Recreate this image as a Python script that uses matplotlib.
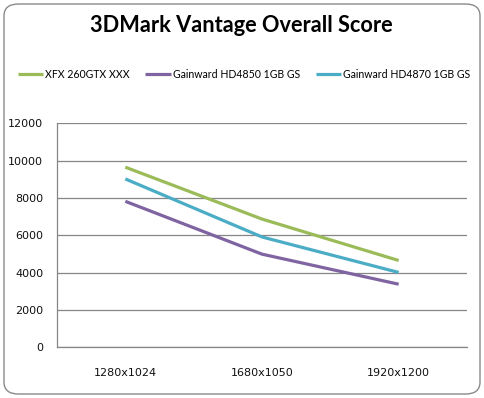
import matplotlib
matplotlib.use('Agg')
import matplotlib.pyplot as plt
from matplotlib.patches import FancyBboxPatch

# chart data
resolutions = ['1280x1024', '1680x1050', '1920x1200']
series_names = ['XFX 260GTX XXX', 'Gainward HD4850 1GB GS', 'Gainward HD4870 1GB GS']
xfx_260gtx = [9650, 6870, 4650]
hd4850 = [7820, 4990, 3380]
hd4870 = [9020, 5910, 4010]
y_ticks = [0, 2000, 4000, 6000, 8000, 10000, 12000]

colors = ['#9BBB59', '#8064A2', '#4BACC6']
grid_col = '#868686'

fig = plt.figure(figsize=(4.84, 3.98), dpi=100)

# rounded outer border
border = FancyBboxPatch((4/484, 4/398), 476/484, 390/398,
                        boxstyle='round,pad=0,rounding_size=0.03',
                        transform=fig.transFigure, facecolor='white',
                        edgecolor='#8a8a8a', linewidth=1.0, zorder=-5)
fig.patches.append(border)

ax = fig.add_axes([57/484, 1 - 347.3/398, 410/484, 224/398])
ax.set_facecolor('none')
ax.set_zorder(2)

x = range(len(resolutions))
for vals, name, c in zip([xfx_260gtx, hd4850, hd4870], series_names, colors):
    ax.plot(x, vals, color=c, linewidth=2.3, label=name, solid_capstyle='butt')

ax.set_xlim(-0.5, len(resolutions) - 0.5)
ax.set_ylim(0, 12000)
ax.set_yticks(y_ticks)
ax.set_yticklabels([str(t) for t in y_ticks], fontsize=8, color='#111111')
ax.set_xticks(list(x))
ax.set_xticklabels(resolutions, fontsize=8, color='#111111')
ax.tick_params(axis='y', length=0, pad=10)
ax.tick_params(axis='x', length=0, pad=15)
ax.grid(axis='y', color=grid_col, linewidth=0.9)
ax.set_axisbelow(True)
for s in ['top', 'right']:
    ax.spines[s].set_visible(False)
for s in ['left', 'bottom']:
    ax.spines[s].set_color(grid_col)
    ax.spines[s].set_linewidth(0.9)

fig.text(241/484, 1 - 26/398, '3DMark Vantage Overall Score', ha='center', va='center',
         fontsize=15.7, fontweight='bold', family='Lato')

leg = ax.legend(loc='center', bbox_to_anchor=(244/484, 1 - 74/398),
                bbox_transform=fig.transFigure, ncol=3, frameon=False,
                prop={'family': 'Lato', 'size': 7.6}, handlelength=2.4,
                handletextpad=0.2, columnspacing=1.5)

fig.savefig('out.png', dpi=100)
